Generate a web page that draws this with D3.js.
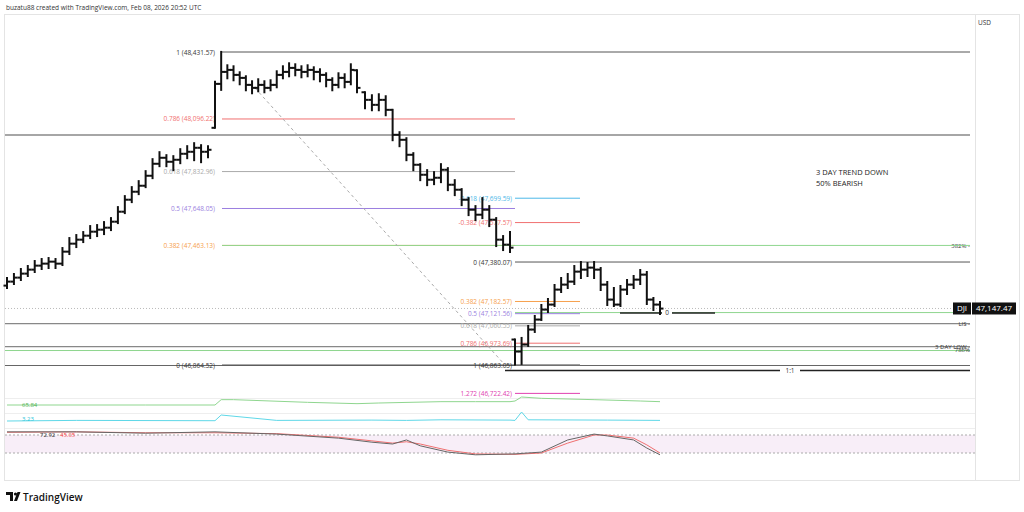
<!DOCTYPE html>
<html>
<head>
<script src="https://d3js.org/d3.v7.min.js"></script>
<style>
  body { margin: 0; background: #fff; font-family: "Open Sans", "DejaVu Sans", sans-serif; }
  text { font-family: "Open Sans", "DejaVu Sans", sans-serif; }
</style>
</head>
<body>
<svg id="chart" width="1024" height="512"></svg>
<script>
// OHLC bars (open = previous close, clamped to the bar range)
const closes = [47282,47302,47322,47342,47362,47372,47382,47372,47432,47472,47492,47512,47532,47542,47552,47582,47632,47692,47732,47762,47812,47872,47902,47882,47892,47922,47932,47952,47932,47942,
  48272,48332,48342,48317,48302,48267,48252,48267,48252,48267,48317,48332,48352,48342,48332,48342,48332,48317,48292,48267,48302,48282,48342,48252,
  48192,48167,48192,48142,48017,47992,47917,47867,47817,47792,47802,47842,47767,47742,47692,47642,47617,47642,47592,47492,47467,47452,
  46932,46967,47042,47092,47142,47167,47242,47267,47282,47332,47342,47352,47342,47267,47192,47167,47242,47267,47292,47317,47192,47167,47147];
const highs = [47300,47320,47345,47360,47385,47395,47400,47395,47450,47500,47515,47530,47560,47565,47580,47600,47655,47710,47755,47785,47835,47895,47930,47915,47910,47945,47960,47975,47965,47960,
  48282,48432,48365,48360,48330,48310,48285,48295,48285,48290,48335,48360,48375,48370,48360,48365,48355,48345,48325,48300,48325,48320,48370,48340,
  48230,48215,48220,48210,48142,48030,48000,47925,47870,47840,47830,47870,47850,47790,47745,47700,47660,47700,47660,47600,47510,47530,
  46992,47000,47060,47110,47165,47195,47265,47300,47320,47360,47380,47375,47380,47350,47280,47250,47260,47290,47310,47340,47330,47200,47180];
const lows = [47250,47270,47290,47310,47330,47345,47350,47350,47365,47420,47455,47480,47500,47510,47520,47540,47575,47625,47680,47720,47755,47800,47860,47860,47840,47875,47900,47890,47880,47905,
  48052,48242,48300,48290,48270,48240,48225,48235,48230,48240,48255,48300,48310,48315,48305,48310,48295,48285,48260,48240,48255,48255,48270,48230,
  48150,48140,48140,48115,47990,47960,47890,47840,47790,47765,47770,47780,47740,47715,47665,47615,47590,47600,47560,47460,47440,47430,
  46867,46870,46960,47030,47090,47130,47160,47230,47250,47270,47300,47310,47300,47240,47165,47160,47160,47220,47250,47270,47170,47140,47120];
const firstOpen = 47262;
// first/last bar index of each session
const sessionBars = [0, 29, 30, 53, 54, 75, 76, 98];

const fibA = [
  ["1 (48,431.57)", 48431.57, "#555", 970],
  ["0.786 (48,096.22)", 48096.22, "#f07070", 515],
  ["0.618 (47,832.96)", 47832.96, "#aaa", 515],
  ["0.5 (47,648.05)", 47648.05, "#9b7fe0", 515],
  ["0.382 (47,463.13)", 47463.13, "#f6a04d", 515],
  ["0 (46,864.52)", 46864.52, "#555", 580]
];
const fibB = [
  ["-0.618 (47,699.59)", 47699.59, "#4db8e8"],
  ["-0.382 (47,577.57)", 47577.57, "#f07070"],
  ["0 (47,380.07)", 47380.07, "#555"],
  ["0.382 (47,182.57)", 47182.57, "#f6a04d"],
  ["0.5 (47,121.56)", 47121.56, "#9b7fe0"],
  ["0.618 (47,060.55)", 47060.55, "#aaa"],
  ["0.786 (46,973.69)", 46973.69, "#f07070"],
  ["1 (46,863.05)", 46863.05, "#777"],
  ["1.272 (46,722.42)", 46722.42, "#e040b0"]
];
const greenIdx = [0,20,30,31,33,45,53,56,65,70,75,76,77,80,88,95,98];
const greenVal = [58,58,58,66,66,62,60,61,63,63,63,64,70,68,66,64,63];
const blueIdx = [0,10,29,30,31,40,55,60,65,75,76,77,78,90,98];
const blueVal = [3.0,3.2,3.1,3.1,5.0,3.2,3.3,3.2,3.4,3.3,3.2,6.0,3.4,3.3,3.2];
const rsiIdx = [0,10,20,30,40,50,55,58,60,62,66,70,76,80,84,88,90,94,96,98];
const rsiVal = [77,77,74,77,72,63,54,50,59,46,32,26,28,32,59,72,68,59,41,26];
const sigVal = [76,77,75,75,73,65,57,52,55,50,36,28,27,30,52,70,70,63,48,30];

const svg = d3.select("#chart");
const x = d3.scaleLinear().domain(sessionBars).range([7, 208, 215, 357, 365, 510, 515, 660]);
const y = d3.scaleLinear().domain([48431.57, 46864.52]).range([52, 365]);

// frame
svg.append("rect").attr("x", 4.5).attr("y", 14.5).attr("width", 1015).attr("height", 466)
  .attr("fill", "none").attr("stroke", "#e4e4e4");
svg.append("line").attr("x1", 975.5).attr("x2", 975.5).attr("y1", 14).attr("y2", 481).attr("stroke", "#e4e4e4");
[398, 413, 428].forEach(v => svg.append("line").attr("x1", 5).attr("x2", 975).attr("y1", v + .5).attr("y2", v + .5).attr("stroke", "#eee"));
svg.append("text").attr("x", 6).attr("y", 10).attr("font-size", 6.5).attr("fill", "#333")
  .text("buzatu88 created with TradingView.com, Feb 08, 2026 20:52 UTC");
svg.append("text").attr("x", 978).attr("y", 25).attr("font-size", 6.5).attr("fill", "#333").text("USD");

function hline(p, x1, x2, color, w, dash) {
  svg.append("line").attr("x1", x1).attr("x2", x2).attr("y1", y(p)).attr("y2", y(p))
    .attr("stroke", color).attr("stroke-width", w).attr("stroke-dasharray", dash || null);
}
hline(48016, 5, 970, "#888", 1.5);
hline(47147.47, 5, 970, "#bbb", 1, "1,2");
hline(47127, 515, 970, "#8fd68f", 1);
hline(47072, 5, 970, "#888", 1.2);
hline(46957, 5, 970, "#888", 1.2);
hline(46937, 5, 970, "#8fd68f", 1);
hline(46862, 5, 970, "#666", 1);
hline(46837, 505, 970, "#222", 1.5);
hline(47125, 620, 715, "#222", 1.5);
svg.append("rect").attr("x", 662).attr("y", y(47125) - 4).attr("width", 10).attr("height", 8).attr("fill", "#fff");
svg.append("text").attr("x", 667).attr("y", y(47125) + 2.5).attr("font-size", 6.5).attr("text-anchor", "middle").attr("fill", "#333").text("0");
svg.append("rect").attr("x", 780).attr("y", y(46837) - 4).attr("width", 20).attr("height", 8).attr("fill", "#fff");
svg.append("text").attr("x", 790).attr("y", y(46837) + 2.5).attr("font-size", 6.5).attr("text-anchor", "middle").attr("fill", "#333").text("1:1");
[["382% -", 47463.13], ["LIS -", 47072], ["3 DAY LOW -", 46957], ["786%", 46940]].forEach(d => {
  svg.append("text").attr("x", 970).attr("y", y(d[1]) + 2.5).attr("font-size", 6).attr("text-anchor", "end").attr("fill", "#333").text(d[0]);
});

fibA.forEach(d => {
  hline(d[1], 222, d[3], d[2], 1);
  svg.append("text").attr("x", 215).attr("y", y(d[1]) + 2.5).attr("font-size", 6.5).attr("text-anchor", "end")
    .attr("fill", d[2] === "#555" ? "#333" : d[2]).text(d[0]);
});
hline(47463.13, 222, 970, "#8fd68f", 1);
fibB.forEach(d => {
  if (d[0].startsWith("0 (")) hline(d[1], 515, 970, "#555", 1);
  else hline(d[1], 515, 580, d[2], 1);
  svg.append("text").attr("x", 512).attr("y", y(d[1]) + 2.5).attr("font-size", 6.5).attr("text-anchor", "end")
    .attr("fill", d[2] === "#555" || d[2] === "#777" ? "#333" : d[2]).text(d[0]);
});
svg.append("line").attr("x1", 255).attr("y1", 88).attr("x2", 505).attr("y2", 365)
  .attr("stroke", "#aaa").attr("stroke-dasharray", "3,3");

// OHLC bars
const bars = svg.append("g").attr("stroke", "#111").attr("stroke-width", 2);
closes.forEach((c, i) => {
  let o = i === 0 ? firstOpen : closes[i - 1];
  o = Math.max(lows[i], Math.min(highs[i], o));
  const cx = x(i);
  bars.append("line").attr("x1", cx).attr("x2", cx).attr("y1", y(highs[i]) - 1).attr("y2", y(lows[i]) + 1);
  bars.append("line").attr("x1", cx - 3.5).attr("x2", cx).attr("y1", y(o)).attr("y2", y(o));
  bars.append("line").attr("x1", cx).attr("x2", cx + 3.5).attr("y1", y(c)).attr("y2", y(c));
});

svg.append("rect").attr("x", 953).attr("y", y(47147.47) - 6).attr("width", 18).attr("height", 12).attr("fill", "#111");
svg.append("rect").attr("x", 972).attr("y", y(47147.47) - 6).attr("width", 44).attr("height", 12).attr("fill", "#111");
svg.append("text").attr("x", 962).attr("y", y(47147.47) + 3).attr("font-size", 8).attr("fill", "#fff").attr("text-anchor", "middle").text("DJI");
svg.append("text").attr("x", 994).attr("y", y(47147.47) + 3).attr("font-size", 8).attr("fill", "#fff").attr("text-anchor", "middle").text("47,147.47");

svg.append("text").attr("x", 816).attr("y", 175).attr("font-size", 7.5).attr("fill", "#222").text("3 DAY TREND DOWN");
svg.append("text").attr("x", 816).attr("y", 186).attr("font-size", 7.5).attr("fill", "#222").text("50% BEARISH");

const yG = d3.scaleLinear().domain([58, 70]).range([405, 397]);
const yB = d3.scaleLinear().domain([3, 6]).range([421, 412]);
const yR = d3.scaleLinear().domain([70, 30]).range([435, 453]);
const ln = (ys) => d3.line().x(d => x(d[0])).y(d => ys(d[1]));
svg.append("path").datum(greenIdx.map((v, i) => [v, greenVal[i]])).attr("d", ln(yG)).attr("fill", "none").attr("stroke", "#8fd68f");
svg.append("path").datum(blueIdx.map((v, i) => [v, blueVal[i]])).attr("d", ln(yB)).attr("fill", "none").attr("stroke", "#5fd8e8");
svg.append("rect").attr("x", 5).attr("y", yR(70)).attr("width", 970).attr("height", yR(30) - yR(70)).attr("fill", "#f8eef8");
[70, 30].forEach(v => svg.append("line").attr("x1", 5).attr("x2", 975).attr("y1", yR(v)).attr("y2", yR(v))
  .attr("stroke", "#aaa").attr("stroke-dasharray", "2,2"));
svg.append("path").datum(rsiIdx.map((v, i) => [v, sigVal[i]])).attr("d", ln(yR)).attr("fill", "none").attr("stroke", "#f07070");
svg.append("path").datum(rsiIdx.map((v, i) => [v, rsiVal[i]])).attr("d", ln(yR)).attr("fill", "none").attr("stroke", "#666");
svg.append("text").attr("x", 22).attr("y", 407).attr("font-size", 6).attr("fill", "#4caf50").text("65.84");
svg.append("text").attr("x", 22).attr("y", 421).attr("font-size", 6).attr("fill", "#26c6da").text("3.23");
svg.append("text").attr("x", 40).attr("y", 437).attr("font-size", 6).attr("fill", "#333").text("72.92");
svg.append("text").attr("x", 60).attr("y", 437).attr("font-size", 6).attr("fill", "#f44").text("45.05");

// logo
svg.append("path").attr("d", "M6 492 h7 v9 h-3 v-6 h-4 z M14 501 l3.5 -9 h3 l-3.5 9 z").attr("fill", "#111");
svg.append("circle").attr("cx", 15.5).attr("cy", 494).attr("r", 1.6).attr("fill", "#111");
svg.append("text").attr("x", 23).attr("y", 500.5).attr("font-size", 10).attr("font-weight", "600").attr("fill", "#111").text("TradingView");
</script>
</body>
</html>
